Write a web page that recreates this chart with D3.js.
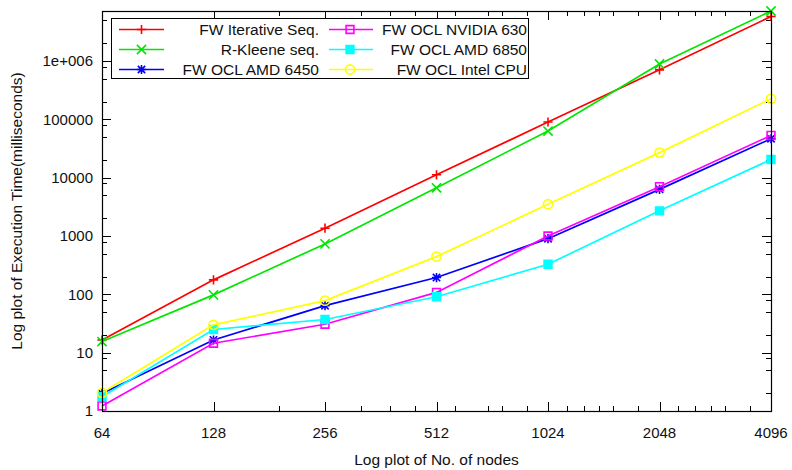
<!DOCTYPE html>
<html>
<head>
<meta charset="utf-8">
<title>FW timings</title>
<script src="https://d3js.org/d3.v7.min.js"></script>
<style>
  body { margin: 0; background: #fff; }
  text { font-family: "Liberation Sans", Arial, sans-serif; fill: #111; }
</style>
</head>
<body>
<div id="chart"></div>
<script>
// node counts (x axis, log2)
var nodes = [64, 128, 256, 512, 1024, 2048, 4096];
var xTickLabels = ["64", "128", "256", "512", "1024", "2048", "4096"];
var xMinorTicks = [192, 320, 384, 448, 576, 704, 768, 896, 1152, 1280, 1408, 1536, 1792, 2304, 2560, 2816, 3072, 3584];

// y axis (log10)
var yTicks = [1, 10, 100, 1000, 10000, 100000, 1000000];
var yTickLabels = ["1", "10", "100", "1000", "10000", "100000", "1e+006"];
var yMax = 7.2e6;

// series (milliseconds)
var fwIterSeq    = [16.5, 177, 1360, 11200, 90000, 706000, 5800000];
var rKleeneSeq   = [15.5, 98, 732, 6700, 63000, 890000, 7200000];
var fwAmd6450    = [2.0, 16.5, 64, 194, 900, 6300, 46500];
var fwNvidia630  = [1.22, 14.5, 30.7, 108, 1000, 7000, 53000];
var fwAmd6850    = [1.75, 25, 37, 91, 328, 2700, 20500];
var fwIntelCpu   = [2.05, 30, 78, 443, 3500, 26900, 225000];

var seriesNames  = ["FW Iterative Seq.", "R-Kleene seq.", "FW OCL AMD 6450", "FW OCL NVIDIA 630", "FW OCL AMD 6850", "FW OCL Intel CPU"];
var seriesValues = [fwIterSeq, rKleeneSeq, fwAmd6450, fwNvidia630, fwAmd6850, fwIntelCpu];
var seriesColors = ["#ff0000", "#00e600", "#0000ff", "#ff00ff", "#00ffff", "#ffff00"];
var seriesMarks  = ["plus", "cross", "star", "square", "fsquare", "circle"];

var width = 792, height = 470;
var margin = {left: 102, right: 21, top: 11, bottom: 59};
var plotW = width - margin.left - margin.right,
    plotH = height - margin.top - margin.bottom;

var x = d3.scaleLog().base(2).domain([64, 4096]).range([0, plotW]);
var y = d3.scaleLog().domain([1, yMax]).range([plotH, 0]);

var svg = d3.select("#chart").append("svg")
  .attr("width", width)
  .attr("height", height);

var g = svg.append("g")
  .attr("transform", "translate(" + margin.left + "," + margin.top + ")");

// minor y ticks at 2,5,8 of each decade
var yMinorTicks = [];
yTicks.forEach(function(t) {
  [2, 5, 8].forEach(function(k) {
    if (t * k < yMax) yMinorTicks.push(t * k);
  });
});

// ticks (inward, mirrored on all four sides)
var ticks = g.append("g").attr("stroke", "#000").attr("stroke-width", 1);

function hTick(v, len) {
  var yy = Math.round(y(v)) + 0.5;
  ticks.append("line").attr("x1", 0).attr("x2", len).attr("y1", yy).attr("y2", yy);
  ticks.append("line").attr("x1", plotW).attr("x2", plotW - len).attr("y1", yy).attr("y2", yy);
}
function vTick(v, len) {
  var xx = Math.round(x(v)) + 0.5;
  ticks.append("line").attr("x1", xx).attr("x2", xx).attr("y1", plotH).attr("y2", plotH - len);
  ticks.append("line").attr("x1", xx).attr("x2", xx).attr("y1", 0).attr("y2", len);
}
yTicks.forEach(function(v) { hTick(v, 9); });
yMinorTicks.forEach(function(v) { hTick(v, 5); });
nodes.forEach(function(v) { vTick(v, 9); });
xMinorTicks.forEach(function(v) { vTick(v, 5); });

// tick labels
g.selectAll(".ylab")
  .data(yTicks)
  .enter().append("text")
  .attr("class", "ylab")
  .attr("x", -9)
  .attr("y", function(d) { return y(d); })
  .attr("dy", "0.35em")
  .attr("text-anchor", "end")
  .style("font-size", "15px")
  .text(function(d, i) { return yTickLabels[i]; });

g.selectAll(".xlab")
  .data(nodes)
  .enter().append("text")
  .attr("class", "xlab")
  .attr("x", function(d) { return x(d); })
  .attr("y", plotH + 27)
  .attr("text-anchor", "middle")
  .style("font-size", "15px")
  .text(function(d, i) { return xTickLabels[i]; });

// axis titles
g.append("text")
  .attr("x", plotW / 2)
  .attr("y", plotH + 54)
  .attr("text-anchor", "middle")
  .style("font-size", "15.5px")
  .text("Log plot of No. of nodes");

g.append("text")
  .attr("transform", "translate(" + (-80) + "," + (plotH / 2) + ") rotate(-90)")
  .attr("text-anchor", "middle")
  .style("font-size", "15.5px")
  .text("Log plot of Execution Time(milliseconds)");

// markers
function markPath(type, cx, cy, r) {
  switch (type) {
    case "plus":
      return "M" + (cx - r) + "," + cy + "H" + (cx + r) + "M" + cx + "," + (cy - r) + "V" + (cy + r);
    case "cross":
      return "M" + (cx - r) + "," + (cy - r) + "L" + (cx + r) + "," + (cy + r) +
             "M" + (cx - r) + "," + (cy + r) + "L" + (cx + r) + "," + (cy - r);
    case "star":
      return markPath("plus", cx, cy, r) + markPath("cross", cx, cy, r * 0.8);
    case "square":
    case "fsquare":
      var s = r * 0.85;
      return "M" + (cx - s) + "," + (cy - s) + "H" + (cx + s) + "V" + (cy + s) + "H" + (cx - s) + "Z";
    case "circle":
      return "M" + (cx - r) + "," + cy + "A" + r + "," + r + " 0 1,0 " + (cx + r) + "," + cy +
             "A" + r + "," + r + " 0 1,0 " + (cx - r) + "," + cy + "Z";
  }
}

var line = d3.line()
  .x(function(d, i) { return x(nodes[i]); })
  .y(function(d) { return y(d); });

seriesValues.forEach(function(vals, si) {
  var col = seriesColors[si], mk = seriesMarks[si];
  var sg = g.append("g").attr("class", "series");
  sg.append("path")
    .attr("d", line(vals))
    .attr("fill", "none")
    .attr("stroke", col)
    .attr("stroke-width", 1.7);
  sg.selectAll(".mk")
    .data(vals)
    .enter().append("path")
    .attr("class", "mk")
    .attr("d", function(d, i) { return markPath(mk, x(nodes[i]), y(d), 4.6); })
    .attr("fill", mk === "fsquare" ? col : "none")
    .attr("stroke", col)
    .attr("stroke-width", 1.6);
});

// frame
g.append("rect")
  .attr("x", 0.5).attr("y", 0.5)
  .attr("width", plotW).attr("height", plotH)
  .attr("fill", "none")
  .attr("stroke", "#000")
  .attr("stroke-width", 1.2);

// legend
var lg = svg.append("g");
lg.append("rect")
  .attr("x", 111.5).attr("y", 18.5)
  .attr("width", 417).attr("height", 60)
  .attr("fill", "#fff")
  .attr("stroke", "#000")
  .attr("stroke-width", 1);

seriesNames.forEach(function(name, si) {
  var col = Math.floor(si / 3), row = si % 3;
  var lx0 = col === 0 ? 119 : 329, lx1 = col === 0 ? 164 : 373;
  var mx = col === 0 ? 141.5 : 350;
  var tx = col === 0 ? 319 : 527;
  var ly = 29.5 + row * 20;
  lg.append("line")
    .attr("x1", lx0).attr("x2", lx1).attr("y1", ly).attr("y2", ly)
    .attr("stroke", seriesColors[si]).attr("stroke-width", 1.7);
  lg.append("path")
    .attr("d", markPath(seriesMarks[si], mx, ly, 4.6))
    .attr("fill", seriesMarks[si] === "fsquare" ? seriesColors[si] : "none")
    .attr("stroke", seriesColors[si]).attr("stroke-width", 1.6);
  lg.append("text")
    .attr("x", tx).attr("y", ly)
    .attr("dy", "0.36em")
    .attr("text-anchor", "end")
    .style("font-size", "15.5px")
    .text(name);
});
</script>
</body>
</html>
